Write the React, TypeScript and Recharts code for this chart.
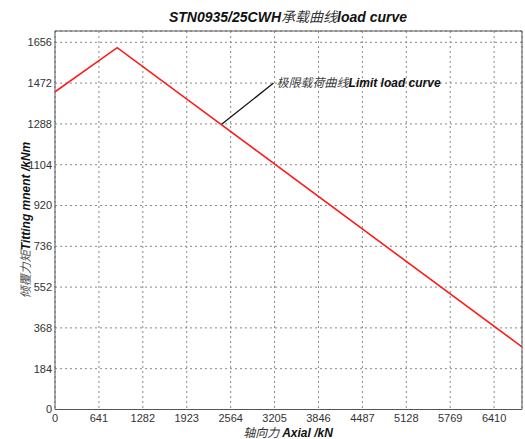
import React from 'react';
import {
  LineChart,
  Line,
  XAxis,
  YAxis,
  CartesianGrid,
  ReferenceLine,
  ReferenceArea,
  ReferenceDot,
} from 'recharts';

// Load curve: axial force (kN) vs tilting moment (kNm)
const axialKN = [0, 908, 6817];
const momentKNm = [1433, 1632, 282];

const xTicks = [0, 641, 1282, 1923, 2564, 3205, 3846, 4487, 5128, 5769, 6410];
const yTicks = [0, 184, 368, 552, 736, 920, 1104, 1288, 1472, 1656];
const xMax = 6817;
const yMax = 1707;

const annotationFrom = { x: 2437, y: 1288 };
const annotationTo = { x: 3190, y: 1472 };

const titleEn1 = 'STN0935/25CWH';
const titleCn = '承载曲线';
const titleEn2 = 'load curve';
const xLabelCn = '轴向力 ';
const xLabelEn = 'Axial /kN';
const yLabelCn = '倾覆力矩';
const yLabelEn = 'Titting mnent /kNm';
const annotCn = '极限载荷曲线';
const annotEn = 'Limit load curve';

const data = axialKN.map((x, i) => ({ x, y: momentKNm[i] }));

const SANS = '"Liberation Sans", Arial, sans-serif';
const SERIF = '"Liberation Serif", "Noto Sans CJK SC", serif';

const AnnotLabel = (props: any) => {
  const vb = props.viewBox || {};
  const x = (vb.x ?? 0) + (vb.width ?? 0) / 2 + 3;
  const y = (vb.y ?? 0) + (vb.height ?? 0) / 2 + 4;
  return (
    <text x={x} y={y} fontSize={12} fontStyle="italic" fontFamily={SANS}>
      <tspan fill="#444" fontFamily={'"Noto Sans CJK SC", serif'} fontWeight="normal">{annotCn}</tspan>
      <tspan fill="#111" fontWeight="bold">{annotEn}</tspan>
    </text>
  );
};

export default function App() {
  return (
    <div style={{ position: 'absolute', left: 0, top: 0, width: 525, height: 439, background: '#fff' }}>
      <LineChart
        width={525}
        height={439}
        data={data}
        margin={{ top: 31, right: 3, bottom: 0, left: 0 }}
      >
        <CartesianGrid stroke="#888" strokeDasharray="2 3" strokeWidth={1} />
        <XAxis
          type="number"
          dataKey="x"
          domain={[0, xMax]}
          ticks={xTicks}
          interval={0}
          height={29.5}
          axisLine={false}
          tickLine={false}
          tickSize={3}
          tickMargin={2}
          tick={{ fontSize: 11, fill: '#333', fontFamily: SANS }}
          allowDataOverflow
        />
        <YAxis
          type="number"
          dataKey="y"
          domain={[0, yMax]}
          ticks={yTicks}
          interval={0}
          width={55}
          axisLine={false}
          tickLine={false}
          tickSize={1}
          tickMargin={2}
          tick={{ fontSize: 11, fill: '#333', fontFamily: SANS }}
          allowDataOverflow
        />
        <ReferenceArea x1={0} x2={xMax} y1={0} y2={yMax} fill="none" stroke="#555" strokeWidth={1} />
        <Line
          type="linear"
          dataKey="y"
          stroke="#ff1a1a"
          strokeWidth={1.6}
          dot={false}
          isAnimationActive={false}
        />
        <ReferenceLine
          segment={[annotationFrom, annotationTo]}
          stroke="#111"
          strokeWidth={1.3}
        />
        <ReferenceDot
          x={annotationTo.x}
          y={annotationTo.y}
          r={0}
          fill="none"
          stroke="none"
          label={<AnnotLabel />}
        />
      </LineChart>
      <svg
        width={525}
        height={439}
        style={{ position: 'absolute', left: 0, top: 0, pointerEvents: 'none' }}
      >
        <text x={288} y={22} textAnchor="middle" fontSize={14} fontStyle="italic" fontFamily={SANS}>
          <tspan fontWeight="bold" fill="#111">{titleEn1}</tspan>
          <tspan fill="#333" fontFamily={SERIF}>{titleCn}</tspan>
          <tspan fontWeight="bold" fill="#111">{titleEn2}</tspan>
        </text>
        <text x={288} y={437} textAnchor="middle" fontSize={12} fontStyle="italic" fontFamily={SANS}>
          <tspan fill="#333" fontFamily={SERIF}>{xLabelCn}</tspan>
          <tspan fontWeight="bold" fill="#111">{xLabelEn}</tspan>
        </text>
        <text
          x={0}
          y={0}
          transform="translate(30,220) rotate(-90)"
          textAnchor="middle"
          fontSize={12}
          fontStyle="italic"
          fontFamily={SANS}
        >
          <tspan fill="#555" fontFamily={SERIF}>{yLabelCn}</tspan>
          <tspan fontWeight="bold" fill="#111">{yLabelEn}</tspan>
        </text>
      </svg>
    </div>
  );
}
